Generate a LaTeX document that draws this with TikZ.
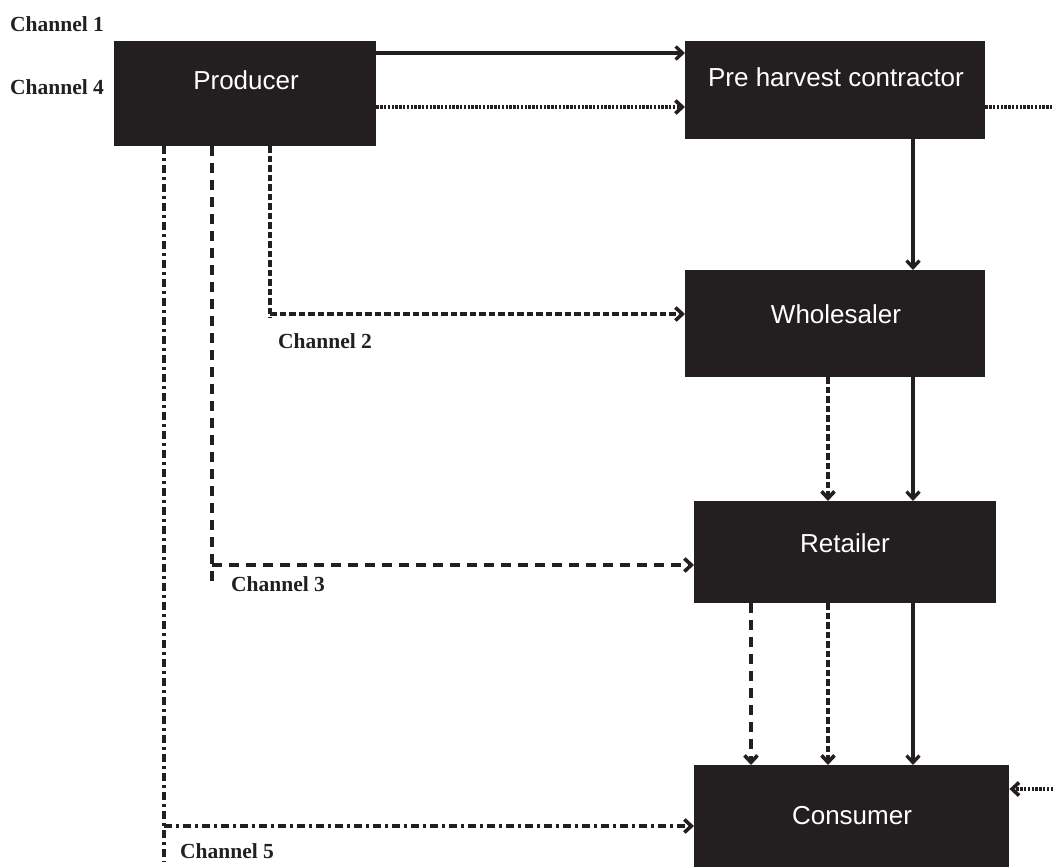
\documentclass[tikz,border=0pt]{standalone}
\usepackage{fontspec}
\setmainfont{Liberation Serif}
\newfontfamily\boxfont{Liberation Sans}
\usetikzlibrary{arrows.meta}
\definecolor{boxfill}{HTML}{231F20}
\definecolor{inkc}{HTML}{231F20}
\tikzset{
  box/.style={rectangle, fill=boxfill, draw=none, inner sep=0pt, anchor=north west},
  boxtext/.style={text=white, font=\boxfont\fontsize{26}{30}\selectfont, anchor=base, inner sep=0pt},
  chlabel/.style={font=\bfseries\fontsize{21.5}{24}\selectfont, text=inkc, anchor=base west, inner sep=0pt},
  tip/.style={-{Straight Barb[length=7pt,width=13pt]}},
  chone/.style={draw=inkc, line width=3.3pt},
  chtwo/.style={draw=inkc, line width=3.6pt, dash pattern=on 6.5pt off 3pt},
  chthree/.style={draw=inkc, line width=3.6pt, dash pattern=on 10pt off 7pt},
  chfour/.style={draw=inkc, line width=3.6pt, dash pattern=on 2.4pt off 1.4pt},
  chfive/.style={draw=inkc, line width=3.6pt, dash pattern=on 8pt off 4pt on 3pt off 4pt},
}
\begin{document}
\begin{tikzpicture}[x=1pt,y=-1pt]
\useasboundingbox (0,0) rectangle (1053,867);
% boxes
\node[box, minimum width=262pt, minimum height=105pt] (prod) at (114,41) {};
\node[box, minimum width=300pt, minimum height=98pt] (phc) at (685,41) {};
\node[box, minimum width=300pt, minimum height=107pt] (whole) at (685,270) {};
\node[box, minimum width=302pt, minimum height=102pt] (ret) at (694,501) {};
\node[box, minimum width=315pt, minimum height=104pt] (cons) at (694,765) {};
% box texts
\node[boxtext] (prodt) at (246,90) {Producer};
\node[boxtext] (phct) at (836,87) {Pre harvest contractor};
\node[boxtext] (wholet) at (836,323) {Wholesaler};
\node[boxtext] (rett) at (845,552) {Retailer};
\node[boxtext] (const) at (852,824) {Consumer};
% channel labels
\node[chlabel] (l1) at (10,32) {Channel 1};
\node[chlabel] (l4) at (10,95) {Channel 4};
\node[chlabel] (l2) at (278,348) {Channel 2};
\node[chlabel] (l3) at (231,591) {Channel 3};
\node[chlabel] (l5) at (180,858) {Channel 5};
% helper coordinates
\coordinate (y1) at (0,53);
\coordinate (y4) at (0,107);
\coordinate (x1) at (913,0);
\coordinate (x2) at (828,0);
\coordinate (x3) at (751,0);
\coordinate (v2) at (270,0);
\coordinate (v3) at (212,0);
\coordinate (v5) at (164,0);
\coordinate (e2) at (270,318);
\coordinate (e3) at (212,585);
\coordinate (e5) at (164,862);
\coordinate (h2) at (270,314);
\coordinate (h3) at (212,565);
\coordinate (h5) at (164,826);
\coordinate (r4a) at (1053,107);
\coordinate (r4b) at (1053,789);
% channel 1
\draw[chone,tip] (prod.east |- y1) -- (phc.west |- y1);
\draw[chone,tip] (phc.south -| x1) -- (whole.north -| x1);
\draw[chone,tip] (whole.south -| x1) -- (ret.north -| x1);
\draw[chone,tip] (ret.south -| x1) -- (cons.north -| x1);
% channel 2
\draw[chtwo] (prod.south -| v2) -- (e2);
\draw[chtwo,tip] (h2) -- (whole.west |- h2);
\draw[chtwo,tip] (whole.south -| x2) -- (ret.north -| x2);
\draw[chtwo,tip] (ret.south -| x2) -- (cons.north -| x2);
% channel 3
\draw[chthree] (prod.south -| v3) -- (e3);
\draw[chthree,tip] (h3) -- (ret.west |- h3);
\draw[chthree,tip] (ret.south -| x3) -- (cons.north -| x3);
% channel 4
\draw[chfour,tip] (prod.east |- y4) -- (phc.west |- y4);
\draw[chfour] (phc.east |- y4) -- (r4a);
\draw[chfour,tip] (r4b) -- (cons.east |- r4b);
% channel 5
\draw[chfive] (prod.south -| v5) -- (e5);
\draw[chfive,tip] (h5) -- (cons.west |- h5);
\end{tikzpicture}
\end{document}
